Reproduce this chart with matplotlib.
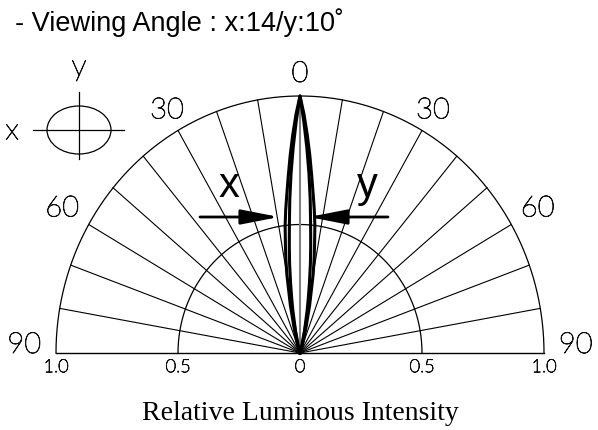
import numpy as np
import matplotlib
matplotlib.use("Agg")
import matplotlib.pyplot as plt
from matplotlib.patches import Ellipse, FancyArrowPatch
from matplotlib import font_manager
import matplotlib.patheffects as pe

# ---- data ----
title = "- Viewing Angle : x:14/y:10˚"
xlabel = "Relative Luminous Intensity"
radial_ticks = [-1.0, -0.5, 0.0, 0.5, 1.0]
radial_tick_labels = ["1.0", "0.5", "0", "0.5", "1.0"]
grid_radii = [0.5, 1.0]
spoke_angles = [-80, -70, -60, -50, -40, -30, -20, -10, 10, 20, 30, 40, 50, 60, 70, 80]
angle_labels = ["90", "60", "30", "0", "30", "60", "90"]
angle_label_deg = [-90, -60, -30, 0, 30, 60, 90]

# measured lobe half-profiles (angle in degrees, relative intensity)
x_lobe_angle = [0, 1, 2, 3, 4, 5, 6, 7, 8, 9, 10, 12, 14, 16, 18, 20]
x_lobe_int = [1.0, 0.93, 0.85, 0.77, 0.69, 0.62, 0.56, 0.5, 0.43, 0.37, 0.31, 0.19, 0.10, 0.05, 0.02, 0.0]
y_lobe_angle = [0, 1, 2, 3, 4, 5, 6, 7, 8, 9, 10, 12, 14, 16]
y_lobe_int = [1.0, 0.9, 0.8, 0.7, 0.6, 0.5, 0.42, 0.35, 0.28, 0.22, 0.17, 0.09, 0.03, 0.0]

W, H = 598, 430
fig = plt.figure(figsize=(W / 100, H / 100), dpi=100)

# overlay in pixel coords for annotations
ov = fig.add_axes([0, 0, 1, 1])
ov.set_xlim(0, W)
ov.set_ylim(H, 0)
ov.axis("off")

cx, cy, rx, ry = 300, 353, 244, 257
ax = fig.add_axes([(cx - rx) / W, (H - cy) / H, 2 * rx / W, ry / H])
ax.set_xlim(-1, 1)
ax.set_ylim(0, 1)
ax.axis("off")

names = {f.name for f in font_manager.fontManager.ttflist}
cad_family = "Lato" if "Lato" in names else "DejaVu Sans"
thin = [pe.withStroke(linewidth=0.6, foreground="#111111")]
cad = dict(family=cad_family, fontweight="light", color="#111111", path_effects=thin)

th = np.radians(np.linspace(-90, 90, 721))
for r in grid_radii:
    ax.plot(r * np.sin(th), r * np.cos(th), color="black", lw=0.9, clip_on=False)
ax.plot([-1, 1], [0, 0], color="black", lw=1.0, clip_on=False)
for a in spoke_angles:
    t = np.radians(a)
    ax.plot([0, np.sin(t)], [0, np.cos(t)], color="black", lw=0.8, clip_on=False)
ax.plot([0, 0], [0, 1], color="#808080", lw=1.5, clip_on=False)


def lobe(angles, vals):
    a = np.radians(np.array(angles, float))
    v = np.array(vals, float)
    aa = np.concatenate([-a[::-1], a[1:]])
    vv = np.concatenate([v[::-1], v[1:]])
    return vv * np.sin(aa), vv * np.cos(aa)


for ang, val in [(x_lobe_angle, x_lobe_int), (y_lobe_angle, y_lobe_int)]:
    lx, ly = lobe(ang, val)
    ax.plot(lx, ly, color="black", lw=2.2, clip_on=False, solid_joinstyle="round")

# radial tick labels
for v, lab in zip(radial_ticks, radial_tick_labels):
    ax.text(v, -0.055, lab, ha="center", va="center", fontsize=13, **cad)

# angle labels
label_r = {0: 1.086, 30: 1.09, 60: 1.125, 90: 1.13}
for d, lab in zip(angle_label_deg, angle_labels):
    R = label_r[abs(d)]
    t = np.radians(d)
    yy = R * np.cos(t) + (0.031 if abs(d) == 90 else 0)
    ax.text(R * np.sin(t), yy, lab, ha="center", va="center", fontsize=21, **cad)

# arrows
yarr = (cy - 217) / ry
for x0, x1 in [((200 - cx) / rx, (279 - cx) / rx), ((388 - cx) / rx, (309 - cx) / rx)]:
    ax.add_patch(FancyArrowPatch((x0, yarr), (x1, yarr),
                                 arrowstyle="-|>,head_length=23,head_width=4.5",
                                 mutation_scale=1, lw=2, color="black",
                                 shrinkA=0, shrinkB=0, clip_on=False))
ax.text((229 - cx) / rx, (cy - 197) / ry, "x", ha="center", va="baseline",
        fontsize=30, family="Liberation Sans")
ax.text((367 - cx) / rx, (cy - 197) / ry, "y", ha="center", va="baseline",
        fontsize=30, family="Liberation Sans")

# icon
ov.add_patch(Ellipse((79, 130), 64, 48, fill=False, ec="black", lw=0.9))
ov.plot([33, 124], [130, 130], color="black", lw=0.9)
ov.plot([79, 79], [92, 159], color="black", lw=0.9)
ov.text(12, 131, "x", ha="center", va="center", fontsize=22, **cad)
ov.text(79, 67, "y", ha="center", va="center", fontsize=22, **cad)

# title & axis label
ov.text(15, 23, title, ha="left", va="center", fontsize=19.5, family="Liberation Sans")
ov.text(300, 413, xlabel, ha="center", va="center", fontsize=20, family="Liberation Serif")

fig.savefig("out.png", dpi=100)
